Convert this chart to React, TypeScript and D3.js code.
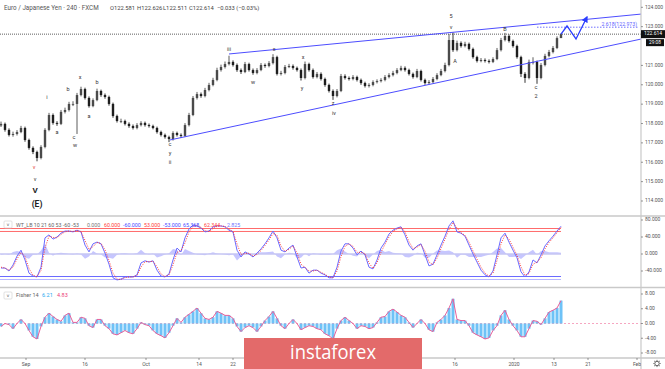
import React from "react";
import * as d3 from "d3";

const W = 665;
const H = 369;

const firstOpen = 117.9;
const closes = [117.98,117.67,117.41,117.46,117.56,117.77,117.15,116.74,116.53,116.22,
116.79,117.67,118.44,118.03,117.98,118.60,118.70,119.01,119.01,119.47,
119.78,119.32,118.90,119.21,119.68,119.47,119.37,119.01,118.39,118.13,
118.13,117.98,117.87,117.77,117.92,118.03,117.92,117.87,117.77,117.56,
117.41,117.30,117.20,117.51,117.41,117.36,117.92,118.44,119.32,119.52,
119.42,119.73,119.99,120.25,120.76,120.92,121.07,121.18,121.02,120.76,
120.66,121.07,120.76,120.61,120.76,121.02,120.97,121.12,121.43,120.56,
120.61,120.92,120.97,120.87,120.76,120.35,121.07,120.76,120.40,120.56,
120.30,119.99,119.68,119.42,119.68,120.45,120.35,120.30,120.40,120.25,
120.09,119.94,119.99,120.14,120.19,120.25,120.40,120.50,120.61,120.76,
120.87,120.76,120.56,120.40,120.71,120.25,120.09,120.14,120.30,120.50,
120.71,121.02,122.31,121.79,122.16,122.00,122.11,121.85,121.43,121.23,
121.28,121.23,121.18,121.33,121.79,122.31,122.52,122.26,122.00,121.43,
120.56,120.35,121.18,121.18,120.35,121.02,121.49,121.69,121.90,122.41,
122.614];
const highs = [118.10,118.05,117.75,117.58,117.66,117.88,117.84,117.22,116.82,116.60,
116.88,117.76,118.55,118.52,118.12,118.70,118.82,119.12,119.15,119.58,
119.90,119.85,119.40,119.30,119.80,119.75,119.55,119.44,119.08,118.46,
118.25,118.20,118.06,117.95,118.02,118.12,118.10,118.00,117.94,117.84,
117.63,117.48,117.37,117.60,117.58,117.49,118.02,118.55,119.42,119.63,
119.60,119.84,120.10,120.36,120.88,121.04,121.20,121.50,121.26,121.10,
120.84,121.18,121.14,120.84,120.86,121.12,121.10,121.22,121.58,121.50,
120.72,121.02,121.08,121.05,120.94,120.84,121.20,121.14,120.84,120.66,
120.64,120.37,120.06,119.76,119.78,120.56,120.54,120.43,120.50,120.47,
120.32,120.16,120.08,120.23,120.28,120.34,120.50,120.60,120.72,120.86,
120.98,120.95,120.83,120.63,120.82,120.78,120.32,120.24,120.40,120.60,
120.82,121.14,122.62,122.70,122.28,122.24,122.22,122.18,121.92,121.50,
121.38,121.36,121.31,121.42,121.90,122.42,122.68,122.60,122.33,122.07,
121.50,120.65,121.30,121.42,121.25,121.12,121.60,121.80,122.00,122.50,
122.626];
const lows = [117.82,117.58,117.33,117.32,117.38,117.50,117.06,116.65,116.42,116.05,
116.15,116.72,117.60,117.94,117.88,117.92,118.52,118.62,118.90,117.46,
119.40,119.24,118.82,118.84,119.15,119.38,119.28,118.92,118.30,118.05,
118.02,117.90,117.78,117.69,117.70,117.85,117.84,117.79,117.70,117.48,
117.33,117.22,117.04,117.12,117.33,117.25,117.30,117.85,118.38,119.24,
119.33,119.35,119.66,119.92,120.18,120.68,120.84,121.00,120.94,120.67,
120.56,120.60,120.68,120.52,120.54,120.70,120.88,120.90,121.05,120.48,
120.48,120.54,120.86,120.78,120.68,120.22,120.28,120.68,120.32,120.33,
120.22,119.90,119.60,119.22,119.35,119.62,120.27,120.22,120.23,120.17,
120.00,119.86,119.86,119.92,120.07,120.12,120.18,120.33,120.43,120.54,
120.70,120.68,120.48,120.32,120.34,120.17,120.00,120.02,120.08,120.23,
120.44,120.64,120.95,121.70,121.72,121.92,121.93,121.77,121.35,121.15,
121.16,121.15,121.10,121.12,121.27,121.72,122.24,122.18,121.92,121.35,
120.40,120.10,120.28,121.05,120.05,120.28,120.95,121.42,121.62,121.84,
122.511];

const wt1 = [-33,-33,-40,-26,-5,9,-14,-45,-52,-54,
-31,38,45,35,40,49,54,54,52,56,
52,21,5,24,28,24,2,-24,-56,-61,
-59,-54,-54,-54,-49,-21,-16,-19,-16,-38,
-52,-54,-47,-14,14,5,38,59,68,66,
61,52,54,64,66,66,64,56,52,9,
-7,5,0,-7,2,12,24,38,54,38,
9,5,14,21,-7,-33,-31,-45,-38,-38,
-45,-49,-56,-56,-31,7,24,24,14,-2,
7,-2,-31,-35,-14,14,28,47,56,61,
64,45,21,9,19,24,-2,-28,-24,-2,
21,42,66,78,52,49,42,21,0,-19,
-38,-49,-54,-40,-2,38,49,28,9,-9,
-42,-54,-42,-14,-21,-2,19,31,42,54,
65.368];
const wt2 = [-31,-33,-38,-31,-12,4,-6,-34,-50,-53,
-39,14,42,39,38,46,52,54,53,55,
53,32,11,17,27,25,10,-15,-45,-59,
-60,-56,-54,-54,-51,-31,-18,-18,-17,-30,
-47,-53,-49,-26,4,8,26,52,65,67,
63,55,53,60,65,66,65,59,53,24,
-1,1,2,-5,-1,8,20,33,48,44,
19,6,11,19,3,-24,-32,-40,-40,-38,
-43,-48,-54,-56,-40,-6,18,24,18,4,
4,1,-21,-34,-21,4,23,40,53,59,
63,52,29,13,16,22,7,-19,-25,-10,
13,35,58,74,61,50,44,28,7,-12,
-31,-45,-52,-45,-15,24,45,35,16,-3,
-30,-50,-46,-24,-19,-9,12,27,38,50,
62.344];

const fisher = [-0.8,0,-0.3,-1.4,0,1.1,0,-1.9,-3.6,-4.2,
-0.8,1.7,2.8,1.9,1.1,0.6,2.2,2.8,0.3,0.3,
1.7,1.4,-0.6,-1.1,1.1,1.1,-0.6,-1.4,-2.8,-3.1,
-2.5,-1.9,-2.5,-2.8,-1.4,0.3,-0.3,-0.6,-1.9,-2.8,
-3.3,-3.9,-2.5,-0.6,1.4,0.3,1.7,2.5,3.3,4.2,
2.8,1.4,1.1,1.7,3.3,2.8,2.2,2.2,1.4,-0.8,
-2.2,-1.1,-0.6,-1.1,-2.2,-0.8,0.8,1.9,3.3,1.4,
-0.6,-1.4,0,1.1,0,-1.7,-1.1,-0.6,-0.8,-1.4,
-1.7,-2.8,-3.3,-4.2,-1.4,0.8,1.7,0.8,0,-1.4,
-0.6,-0.8,-1.4,-1.1,0.3,1.7,1.9,3.3,3.9,3.1,
2.2,1.7,0.3,-1.1,0,1.1,0,-1.7,-2.2,0.3,
1.1,2.2,4.2,6.7,1.1,0.8,0.8,-0.6,-2.5,-3.1,
-3.6,-4.2,-3.9,-1.9,-0.6,2.2,3.6,1.1,-0.6,-1.9,
-3.6,-3.6,-1.4,0.8,0.6,-0.3,1.4,3.1,3.6,4.2,
6.21];

const priceTicks = [124, 123, 121, 120, 119, 118, 117, 116, 115, 114];
const wtTicks = [80, 40, 0, -40];
const fisherTicks = [8, 4, 0, -4, -8];
const xTickLabels = ["Sep", "16", "Oct", "14", "22", "16", "2020", "13", "21", "Feb"];
const xTickIdx = [6.25, 21, 36.25, 49.5, 58, 113.5, 128.25, 138.25, 146.75, 159];

const waveLabels = [
  { t: "i", i: 11.5, p: 119.32 }, { t: "a", i: 14, p: 117.51 }, { t: "b", i: 16.75, p: 119.73 },
  { t: "c", i: 18.25, p: 117.3 }, { t: "w", i: 18.5, p: 116.84 }, { t: "x", i: 19.75, p: 120.35 },
  { t: "a", i: 22, p: 118.34 }, { t: "b", i: 24, p: 120.09 }, { t: "c", i: 42.25, p: 116.89 },
  { t: "y", i: 42.25, p: 116.43 }, { t: "ii", i: 42.25, p: 115.96 }, { t: "v", i: 8.5, p: 115.13 },
  { t: "iii", i: 57, p: 121.8 }, { t: "w", i: 63, p: 120.09 }, { t: "x", i: 68.25, p: 121.8 },
  { t: "x", i: 75.5, p: 121.43 }, { t: "y", i: 75.25, p: 119.83 }, { t: "z", i: 83, p: 119.01 },
  { t: "iv", i: 83.25, p: 118.49 }, { t: "5", i: 112.5, p: 123.5 }, { t: "v", i: 112.5, p: 122.98 },
  { t: "A", i: 113.5, p: 121.18 }, { t: "B", i: 126, p: 122.83 }, { t: "c", i: 133.75, p: 119.88 },
  { t: "2", i: 133.75, p: 119.37 },
];
const bigLabels = [{ t: "V", i: 8.5, p: 114.52 }, { t: "(E)", i: 9, p: 113.79 }];
const redMark = { t: "v", i: 8.25, p: 115.75 };

const upperChannel = [{ i: 57, p: 121.59 }, { i: 160, p: 123.65 }];
const lowerChannel = [{ i: 42.25, p: 117.15 }, { i: 160, p: 122.36 }];
const projection = [{ i: 140, p: 122.614 }, { i: 141.5, p: 123.035 }, { i: 143.75, p: 122.364 }, { i: 146.5, p: 123.5 }];
const fibLevel = { from: 134, to: 159.5, p: 122.973, label: "2.618(122.973)" };
const lastPrice = 122.614;

const FONT = "Roboto, 'Open Sans', sans-serif";

export default function App() {
  const x = d3.scaleLinear().domain([0, 160]).range([1, 641]);
  const yP = d3.scaleLinear().domain([114, 124]).range([201, 7.3]);
  const yW = d3.scaleLinear().domain([-40, 80]).range([271, 220]);
  const yF = d3.scaleLinear().domain([-8, 8]).range([353, 294]);
  const n = closes.length;
  const lastX = x(n - 1);

  const line = d3.line<{ i: number; p: number }>().x((d) => x(d.i)).y((d) => yP(d.p));
  const wt1Line = d3.line<number>().x((_, i) => x(i)).y((d) => yW(d))(wt1) || "";
  const wt2Line = d3.line<number>().x((_, i) => x(i)).y((d) => yW(d))(wt2) || "";
  const histArea = d3.area<number>().x((_, i) => x(i)).y0(yW(0)).y1((_, i) => yW(wt1[i] - wt2[i]))(wt1) || "";
  const fisherLine = d3.line<number>().x((_, i) => x(i)).y((d) => yF(d))(fisher) || "";

  const grey = "#555";
  const sep = "#c9c9c9";

  return (
    <svg width={W} height={H} style={{ position: "absolute", left: 0, top: 0, background: "#fff" }} fontFamily={FONT}>
      <defs>
        <clipPath id="plot"><rect x={0} y={0} width={641} height={216} /></clipPath>
        <clipPath id="xaxis"><rect x={0} y={358} width={641} height={11} /></clipPath>
        <marker id="arr" viewBox="0 0 10 10" refX={8} refY={5} markerWidth={5} markerHeight={5} orient="auto">
          <path d="M0,0 L10,5 L0,10 Z" fill="#2b3dff" />
        </marker>
      </defs>
      <rect x={0} y={0} width={W} height={H} fill="#fff" />

      <text x={4} y={10} fontSize={6.3} fill="#555">Euro / Japanese Yen · 240 · FXCM</text>
      <text x={110} y={10} fontSize={5.8} fill="#444">O122.581</text>
      <text x={137} y={10} fontSize={5.8} fill="#444">H122.626</text>
      <text x={163} y={10} fontSize={5.8} fill="#444">L122.511</text>
      <text x={189} y={10} fontSize={5.8} fill="#444">C122.614</text>
      <text x={217} y={10} fontSize={5.8} fill="#444">−0.033 (−0.03%)</text>

      <g clipPath="url(#plot)">
        <line x1={0} x2={641} y1={yP(lastPrice)} y2={yP(lastPrice)} stroke="#333" strokeWidth={0.8} strokeDasharray="1,1" />
        {closes.map((c, i) => {
          const o = i === 0 ? firstOpen : closes[i - 1];
          const up = c >= o;
          const top = yP(Math.max(o, c));
          const bot = yP(Math.min(o, c));
          const col = up ? "#4a4a4a" : "#1e1e1e";
          return (
            <g key={i}>
              <line x1={x(i)} x2={x(i)} y1={yP(highs[i])} y2={yP(lows[i])} stroke={col} strokeWidth={0.9} />
              <rect x={x(i) - 1.2} y={top} width={2.4} height={Math.max(0.8, bot - top)} fill={col} />
            </g>
          );
        })}
        <path d={line(upperChannel) || ""} stroke="#4d4dff" strokeWidth={1} fill="none" />
        <path d={line(lowerChannel) || ""} stroke="#4d4dff" strokeWidth={1} fill="none" />
        <line x1={x(fibLevel.from)} x2={x(fibLevel.to)} y1={yP(fibLevel.p)} y2={yP(fibLevel.p)} stroke="#6f6fff" strokeWidth={1} strokeDasharray="1.5,1.5" />
        <text x={x(fibLevel.to) - 2} y={yP(fibLevel.p) - 1.5} fontSize={5.2} fill="#5d5dff" textAnchor="end">{fibLevel.label}</text>
        <path d={line(projection) || ""} stroke="#2b3dff" strokeWidth={1.3} fill="none" markerEnd="url(#arr)" />
        {waveLabels.map((l, k) => (
          <text key={k} x={x(l.i)} y={yP(l.p)} fontSize={5.5} fill="#333" textAnchor="middle" dominantBaseline="middle">{l.t}</text>
        ))}
        {bigLabels.map((l, k) => (
          <text key={k} x={x(l.i)} y={yP(l.p)} fontSize={k === 0 ? 8 : 8.5} fontWeight="bold" fill="#222" textAnchor="middle" dominantBaseline="middle">{l.t}</text>
        ))}
        <text x={x(redMark.i)} y={yP(redMark.p)} fontSize={5.5} fill="#e53935" textAnchor="middle" dominantBaseline="middle">{redMark.t}</text>
      </g>

      <g>
        <path d={histArea} fill="#b3b3ff" fillOpacity={0.75} />
        <line x1={0} x2={lastX} y1={yW(0)} y2={yW(0)} stroke="#c6c6f3" strokeWidth={1.4} />
        <line x1={0} x2={lastX} y1={yW(60)} y2={yW(60)} stroke="#ff5a5a" strokeWidth={0.9} />
        <line x1={0} x2={lastX} y1={yW(53)} y2={yW(53)} stroke="#ff5a5a" strokeWidth={0.9} />
        <line x1={0} x2={lastX} y1={yW(-53)} y2={yW(-53)} stroke="#6b6bff" strokeWidth={1.1} />
        <line x1={0} x2={lastX} y1={yW(-60)} y2={yW(-60)} stroke="#b8b8ff" strokeWidth={1.1} />
        <path d={wt1Line} stroke="#6a6aff" strokeWidth={1} fill="none" />
        <path d={wt2Line} stroke="#ff2b2b" strokeWidth={0.9} fill="none" strokeDasharray="1,1.4" />
        <rect x={4} y={221} width={8} height={7} fill="#fff" stroke="#cfcfcf" strokeWidth={0.6} rx={1} />
        <text x={8} y={226.5} fontSize={5} fill="#555" textAnchor="middle">˅</text>
        <text y={226.5} fontSize={5.3}>
          <tspan x={16} fill="#666">WT_LB 10 21 60 53 -60 -53</tspan>
          <tspan x={87} fill="#777">0.000</tspan>
          <tspan x={104} fill="#ff3b3b">60.000</tspan>
          <tspan x={123} fill="#4b4bff">-60.000</tspan>
          <tspan x={144} fill="#ff3b3b">53.000</tspan>
          <tspan x={163} fill="#4b4bff">-53.000</tspan>
          <tspan x={183} fill="#4b4bff">65.368</tspan>
          <tspan x={204} fill="#ff3b3b">62.344</tspan>
          <tspan x={227} fill="#7070ff">2.825</tspan>
        </text>
      </g>

      <g>
        <line x1={0} x2={641} y1={yF(0)} y2={yF(0)} stroke="#f48fb1" strokeWidth={0.8} strokeDasharray="2,2" />
        {fisher.map((v, i) => (
          <rect key={i} x={x(i) - 1.5} width={3} y={Math.min(yF(v), yF(0))} height={Math.abs(yF(v) - yF(0))} fill="#6ec2f7" />
        ))}
        <path d={fisherLine} stroke="#e8609a" strokeWidth={1} fill="none" />
        <rect x={4} y={292} width={8} height={7} fill="#fff" stroke="#cfcfcf" strokeWidth={0.6} rx={1} />
        <text x={8} y={297.5} fontSize={5} fill="#555" textAnchor="middle">˅</text>
        <text y={297} fontSize={5.5}>
          <tspan x={16} fill="#666">Fisher 14</tspan>
          <tspan x={42} fill="#29a8f0">6.21</tspan>
          <tspan x={57} fill="#ec407a">4.83</tspan>
        </text>
      </g>

      <line x1={0} x2={W} y1={216} y2={216} stroke={sep} strokeWidth={1.3} />
      <line x1={0} x2={W} y1={287.5} y2={287.5} stroke={sep} strokeWidth={1.3} />
      <line x1={0} x2={W} y1={358} y2={358} stroke={sep} strokeWidth={1.3} />
      <line x1={641} x2={641} y1={0} y2={H} stroke={sep} strokeWidth={1.2} />

      {priceTicks.map((t) => (
        <g key={t}>
          <line x1={641} x2={643} y1={yP(t)} y2={yP(t)} stroke={grey} strokeWidth={0.6} />
          <text x={645} y={yP(t)} fontSize={5} fill={grey} dominantBaseline="middle">{t.toFixed(3)}</text>
        </g>
      ))}
      <rect x={641} y={yP(lastPrice) - 4} width={24} height={8} fill="#111" />
      <text x={653} y={yP(lastPrice)} fontSize={5} fill="#fff" textAnchor="middle" dominantBaseline="middle">{lastPrice.toFixed(3)}</text>
      <rect x={646} y={yP(lastPrice) + 5} width={18} height={7} fill="#111" />
      <text x={655} y={yP(lastPrice) + 8.7} fontSize={4.8} fill="#fff" textAnchor="middle" dominantBaseline="middle">29:08</text>

      {wtTicks.map((t) => (
        <g key={t}>
          <line x1={641} x2={643} y1={yW(t)} y2={yW(t)} stroke={grey} strokeWidth={0.6} />
          <text x={645} y={yW(t)} fontSize={5} fill={grey} dominantBaseline="middle">{t.toFixed(3)}</text>
        </g>
      ))}
      {fisherTicks.map((t) => (
        <g key={t}>
          <line x1={641} x2={643} y1={yF(t)} y2={yF(t)} stroke={grey} strokeWidth={0.6} />
          <text x={645} y={yF(t)} fontSize={5} fill={grey} dominantBaseline="middle">{t.toFixed(2)}</text>
        </g>
      ))}

      <g clipPath="url(#xaxis)">
        {xTickLabels.map((l, k) => (
          <g key={k}>
            <line x1={x(xTickIdx[k])} x2={x(xTickIdx[k])} y1={358} y2={360} stroke={grey} strokeWidth={0.6} />
            <text x={x(xTickIdx[k])} y={365.5} fontSize={5} fill={grey} textAnchor="middle">{l}</text>
          </g>
        ))}
      </g>

      <g transform="translate(657,363.5)" stroke="#666" fill="none">
        <circle r={2.2} strokeWidth={1} />
        {d3.range(8).map((k) => (
          <line key={k} x1={0} y1={-2.6} x2={0} y2={-3.6} strokeWidth={1} transform={`rotate(${k * 45})`} />
        ))}
      </g>

      <rect x={244} y={338} width={178} height={32} fill="#e36a6a" />
      <text x={333} y={359} fontSize={20} fill="#fff" textAnchor="middle" fontFamily="'Open Sans', sans-serif" textLength={86} lengthAdjust="spacingAndGlyphs">instaforex</text>
    </svg>
  );
}
